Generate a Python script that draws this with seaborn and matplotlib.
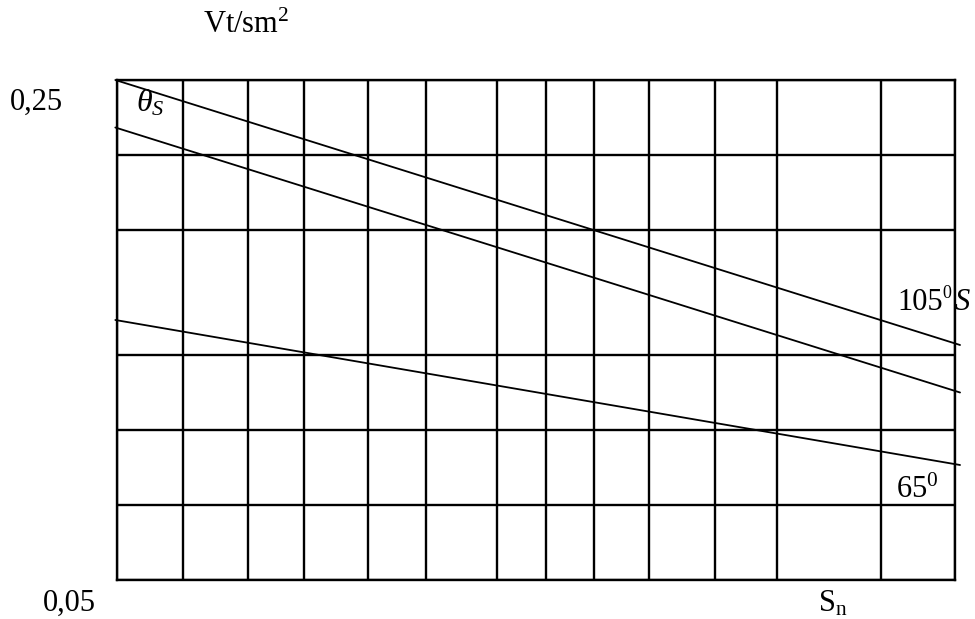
import matplotlib
matplotlib.use("Agg")
import matplotlib.pyplot as plt
import seaborn as sns
import pandas as pd

# Grid positions along the S_n axis (irregular spacing) and along the power axis
grid_s = [0.0, 0.79, 1.56, 2.23, 3.0, 3.69, 4.53, 5.12, 5.69, 6.35, 7.14, 7.88, 9.12, 10.0]
grid_v = [0.05, 0.08, 0.11, 0.14, 0.19, 0.22, 0.25]

# Straight characteristics: endpoints of each line
s_n = [-0.02, 10.06]
v_upper = [0.250, 0.144]
v_middle = [0.231, 0.125]
v_lower = [0.154, 0.096]

sns.set_theme(style="white")
plt.rcParams["font.family"] = ["Liberation Serif", "DejaVu Serif"]
plt.rcParams["mathtext.fontset"] = "custom"
plt.rcParams["mathtext.rm"] = "Liberation Serif"
plt.rcParams["mathtext.it"] = "Liberation Serif:italic"
plt.rcParams["text.color"] = "black"

W, H = 975, 619
fig = plt.figure(figsize=(W / 100, H / 100), dpi=100)
fig.patch.set_facecolor("white")

left, right, top, bottom = 117, 955, 80, 580
ax = fig.add_axes([left / W, 1 - bottom / H, (right - left) / W, (bottom - top) / H])
ax.set_xlim(0, 10)
ax.set_ylim(0.05, 0.25)

# Grid
ax.set_xticks(grid_s)
ax.set_yticks(grid_v)
ax.grid(True, color="black", linewidth=1.7)
ax.tick_params(length=0, labelbottom=False, labelleft=False)
for sp in ax.spines.values():
    sp.set_color("black")
    sp.set_linewidth(1.7)
    sp.set_visible(True)

df = pd.DataFrame({
    "s": s_n * 3,
    "v": v_upper + v_middle + v_lower,
    "curve": ["upper"] * 2 + ["middle"] * 2 + ["lower"] * 2,
})
for name in ["upper", "middle", "lower"]:
    sub = df[df["curve"] == name]
    sns.lineplot(data=sub, x="s", y="v", ax=ax, color="black", linewidth=1.3,
                 clip_on=False, zorder=3)
ax.set_xlabel("")
ax.set_ylabel("")


def put(x, y, s, size=22, **kw):
    fig.text(x / W, 1 - y / H, s, fontsize=size, ha="left", va="baseline",
             color="black", **kw)


put(203, 33, r"Vt/sm$^{2}$")
put(10, 110, "0,25")
put(43, 611, "0,05")
put(818, 611, r"S$_{\mathrm{n}}$")
put(136, 111, r"$\theta_{S}$", size=23)
# curve labels on the right
put(897, 310, "105")
put(942, 298, "0", size=13)
put(955, 310, "S", style="italic")
put(896, 498, r"65$^{0}$")

fig.savefig("out.png", dpi=100, facecolor="white")
